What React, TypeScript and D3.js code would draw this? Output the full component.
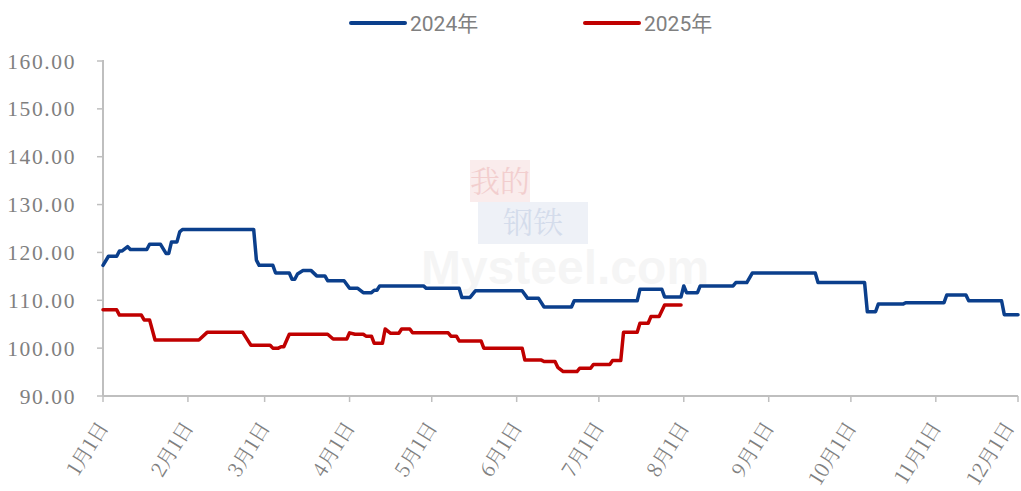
import React from "react";
import * as d3 from "d3";

// 2024 series (plotted on a common Jan-Dec axis)
const dates2024 = [
  "01-01", "01-03", "01-06", "01-07", "01-08", "01-10", "01-11", "01-17", "01-18", "01-22",
  "01-24", "01-25", "01-26", "01-28", "01-29", "01-30", "02-25", "02-26", "02-27", "03-04",
  "03-05", "03-10", "03-11", "03-12", "03-13", "03-15", "03-18", "03-20", "03-23", "03-24",
  "03-30", "04-01", "04-04", "04-06", "04-09", "04-10", "04-11", "04-12", "04-28", "04-29",
  "05-11", "05-12", "05-15", "05-17", "06-03", "06-05", "06-09", "06-11", "06-21", "06-22",
  "07-15", "07-16", "07-24", "07-25", "07-31", "08-01", "08-02", "08-06", "08-07", "08-19",
  "08-20", "08-24", "08-26", "09-18", "09-19", "10-06", "10-07", "10-10", "10-11", "10-20",
  "10-21", "11-04", "11-05", "11-12", "11-13", "11-25", "11-26", "12-01",
];
const values2024 = [
  117.3, 119.2, 119.2, 120.3, 120.3, 121.2, 120.6, 120.6, 121.7, 121.7,
  119.8, 119.8, 122.2, 122.2, 124.3, 124.8, 124.8, 118.4, 117.3, 117.3,
  115.7, 115.7, 114.4, 114.4, 115.5, 116.2, 116.2, 115.1, 115.1, 114.1,
  114.1, 112.5, 112.5, 111.6, 111.6, 112.1, 112.1, 113.0, 113.0, 112.5,
  112.5, 110.6, 110.6, 112.0, 112.0, 110.4, 110.4, 108.6, 108.6, 109.9,
  109.9, 112.3, 112.3, 110.7, 110.7, 113.0, 111.6, 111.6, 113.0, 113.0,
  113.7, 113.7, 115.7, 115.7, 113.7, 113.7, 107.6, 107.6, 109.2, 109.2,
  109.5, 109.5, 111.1, 111.1, 109.9, 109.9, 107.0, 107.0,
];

const dates2025 = [
  "01-01", "01-06", "01-07", "01-15", "01-16", "01-18", "01-20", "02-05", "02-08", "02-21",
  "02-24", "03-03", "03-04", "03-06", "03-07", "03-08", "03-10", "03-24", "03-26", "03-31",
  "04-01", "04-03", "04-06", "04-07", "04-09", "04-10", "04-13", "04-14", "04-16", "04-19",
  "04-20", "04-23", "04-24", "05-07", "05-08", "05-10", "05-11", "05-19", "05-20", "06-03",
  "06-04", "06-10", "06-11", "06-15", "06-16", "06-18", "06-23", "06-24", "06-28", "06-29",
  "07-05", "07-06", "07-09", "07-10", "07-15", "07-16", "07-19", "07-20", "07-23", "07-25",
  "07-31",
];
const values2025 = [
  108.0, 108.0, 106.9, 106.9, 105.9, 105.9, 101.7, 101.7, 103.3, 103.3,
  100.6, 100.6, 100.0, 100.0, 100.3, 100.3, 102.9, 102.9, 101.9, 101.9,
  103.2, 102.9, 102.9, 102.5, 102.5, 101.0, 101.0, 104.0, 103.1, 103.1,
  104.0, 104.0, 103.2, 103.2, 102.5, 102.5, 101.5, 101.5, 100.0, 100.0,
  97.5, 97.5, 97.2, 97.2, 96.0, 95.1, 95.1, 95.8, 95.8, 96.6,
  96.6, 97.4, 97.4, 103.3, 103.3, 105.2, 105.2, 106.6, 106.6, 109.0,
  109.0,
];

const yTicks = [90, 100, 110, 120, 130, 140, 150, 160];
const monthLabels = ["1月1日", "2月1日", "3月1日", "4月1日", "5月1日", "6月1日", "7月1日", "8月1日", "9月1日", "10月1日", "11月1日", "12月1日"];
const seriesNames = ["2024年", "2025年"];
const seriesColors = ["#0B3F8C", "#C00000"];

const W = 1021;
const H = 491;
const margin = { top: 61, right: 3, bottom: 95, left: 103 };

const parse = (md: string) => new Date(2025, +md.slice(0, 2) - 1, +md.slice(3, 5));

export default function App() {
  const x = d3
    .scaleTime()
    .domain([new Date(2025, 0, 1), new Date(2025, 11, 1)])
    .range([margin.left, W - margin.right]);
  const y = d3.scaleLinear().domain([90, 160]).range([H - margin.bottom, margin.top]);

  const line = d3
    .line<[Date, number]>()
    .x((d) => x(d[0]))
    .y((d) => y(d[1]));

  const s2024: [Date, number][] = dates2024.map((d, i) => [parse(d), values2024[i]]);
  const s2025: [Date, number][] = dates2025.map((d, i) => [parse(d), values2025[i]]);

  const monthTicks = d3.range(12).map((m) => new Date(2025, m, 1));
  const axisColor = "#BFBFBF";
  const textColor = "#808080";
  const y0 = y(90);

  return (
    <div style={{ position: "absolute", left: 0, top: 0 }}>
      <svg width={W} height={H} style={{ display: "block", background: "#fff" }}>
        {/* watermark */}
        <g opacity={0.07}>
          <rect x={470} y={160} width={60} height={42} fill="#C00000" />
          <rect x={478} y={202} width={110} height={42} fill="#1F4E9C" />
        </g>
        <g opacity={0.12} fontFamily="'Noto Serif CJK SC', 'Noto Sans CJK SC', serif">
          <text x={500} y={192} fontSize={30} fill="#C00000" textAnchor="middle">我的</text>
          <text x={533} y={233} fontSize={30} fill="#1F4E9C" textAnchor="middle">钢铁</text>
        </g>
        <text x={565} y={284} fontSize={48} fontFamily="Arial, 'Liberation Sans', sans-serif" fontWeight="bold" fill="#000" opacity={0.035} textAnchor="middle">
          Mysteel.com
        </text>

        {/* y axis */}
        <line x1={margin.left} x2={margin.left} y1={y(160) - 1} y2={y0} stroke={axisColor} strokeWidth={2} />
        {yTicks.map((t) => (
          <g key={t}>
            <line x1={margin.left - 6} x2={margin.left} y1={y(t)} y2={y(t)} stroke={axisColor} strokeWidth={1.5} />
            <text
              x={76}
              y={y(t)}
              dy="0.35em"
              textAnchor="end"
              fontSize={21.5}
              letterSpacing={1.6}
              fontFamily="'Liberation Serif', 'Times New Roman', serif"
              fill={textColor}
            >
              {t.toFixed(2)}
            </text>
          </g>
        ))}

        {/* x axis */}
        <line x1={margin.left} x2={W - margin.right} y1={y0} y2={y0} stroke={axisColor} strokeWidth={2} />
        {monthTicks.map((d, i) => (
          <g key={i}>
            <line x1={x(d)} x2={x(d)} y1={y0} y2={y0 + 6} stroke={axisColor} strokeWidth={1.5} />
            <text
              transform={`translate(${Math.min(x(d) + 1, W - 11)},${y0 + 28}) rotate(-58)`}
              textAnchor="end"
              dy="0.3em"
              fontSize={20}
              fontFamily="'Noto Serif CJK SC', 'Noto Sans CJK SC', serif"
              fill={textColor}
            >
              {monthLabels[i]}
            </text>
          </g>
        ))}

        {/* series */}
        <path d={line(s2024) || ""} fill="none" stroke={seriesColors[0]} strokeWidth={3.5} strokeLinejoin="round" strokeLinecap="round" />
        <path d={line(s2025) || ""} fill="none" stroke={seriesColors[1]} strokeWidth={3.5} strokeLinejoin="round" strokeLinecap="round" />

        {/* legend */}
        {seriesNames.map((name, i) => {
          const lx = i === 0 ? 351 : 585;
          return (
            <g key={name}>
              <line x1={lx} x2={lx + 54} y1={23} y2={23} stroke={seriesColors[i]} strokeWidth={4} strokeLinecap="round" />
              <text
                x={lx + 59}
                y={23}
                dy="0.36em"
                fontSize={21}
                fontFamily="Roboto, 'Noto Sans CJK SC', sans-serif"
                fill={textColor}
              >
                {name}
              </text>
            </g>
          );
        })}
      </svg>
    </div>
  );
}
